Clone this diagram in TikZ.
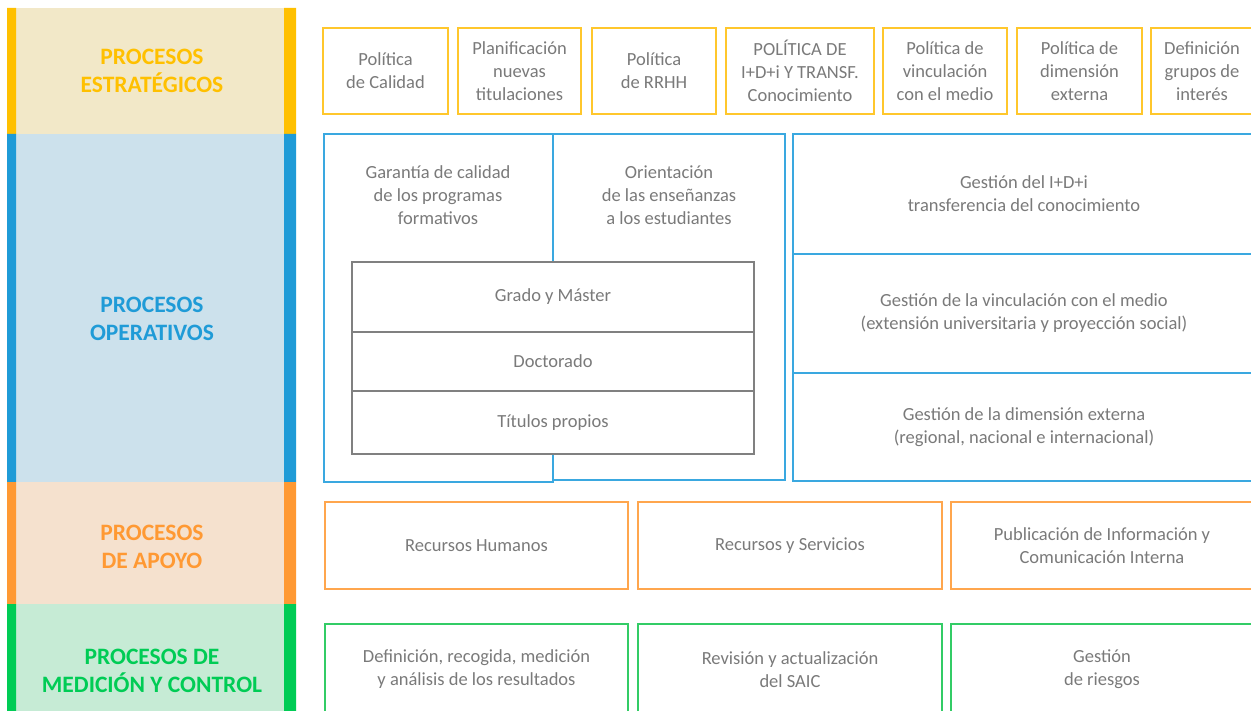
\documentclass[tikz,border=0pt]{standalone}
\usepackage{fontspec}
\setmainfont{Carlito}
\definecolor{txt}{HTML}{7A7A7A}
\definecolor{sStripe}{HTML}{FFC000}
\definecolor{sBg}{HTML}{F2E8C8}
\definecolor{sLine}{HTML}{FFC72C}
\definecolor{oStripe}{HTML}{1F9BD7}
\definecolor{oBg}{HTML}{CCE1EC}
\definecolor{oLine}{HTML}{3AA8E0}
\definecolor{aStripe}{HTML}{FF9933}
\definecolor{aBg}{HTML}{F5E1CE}
\definecolor{aLine}{HTML}{FFA64D}
\definecolor{mStripe}{HTML}{00CC55}
\definecolor{mBg}{HTML}{C6EBD5}
\definecolor{mLine}{HTML}{33CC66}
\definecolor{gLine}{HTML}{808080}
\begin{document}
\begin{tikzpicture}[x=1pt,y=-1pt,
  box/.style={draw, line width=1.8pt, fill=white, text=txt, align=center,
    font=\fontsize{18.5}{23}\selectfont, inner sep=0pt},
  lbl/.style={text=txt, align=center, font=\fontsize{18.5}{23}\selectfont, inner sep=0pt},
  bandlbl/.style={align=center, font=\fontsize{23.5}{28}\selectfont\bfseries, inner sep=0pt},
  sbox/.style={box, draw=sLine, minimum height=86pt},
  obox/.style={box, draw=oLine},
  abox/.style={box, draw=aLine, minimum height=87pt},
  mbox/.style={box, draw=mLine, minimum height=91pt},
  gbox/.style={box, draw=gLine, minimum width=402pt}]
\useasboundingbox (0,0) rectangle (1251,711);
\clip (0,0) rectangle (1251,711);
\fill[white] (0,0) rectangle (1251,711);
% bands
\fill[sBg] (16,8) rectangle (284,134);
\fill[sStripe] (7,8) rectangle (16,134) (284,8) rectangle (296,134);
\fill[oBg] (16,134) rectangle (284,482);
\fill[oStripe] (7,134) rectangle (16,482) (284,134) rectangle (296,482);
\fill[aBg] (16,482) rectangle (284,604);
\fill[aStripe] (7,482) rectangle (16,604) (284,482) rectangle (296,604);
\fill[mBg] (16,604) rectangle (284,711);
\fill[mStripe] (7,604) rectangle (16,711) (284,604) rectangle (296,711);
\node[bandlbl, text=sStripe] (lest) at (152,70.5) {PROCESOS\\ESTRATÉGICOS};
\node[bandlbl, text=oStripe] (lope) at (152,319) {PROCESOS\\OPERATIVOS};
\node[bandlbl, text=aStripe] (lapo) at (152,546.5) {PROCESOS\\DE APOYO};
\node[bandlbl, text=mStripe] (lmed) at (152,670.5) {PROCESOS DE\\MEDICIÓN Y CONTROL};
% strategic
\node[sbox, minimum width=125pt] (s1) at (385.5,71) {Política\\de Calidad};
\node[sbox, minimum width=123pt] (s2) at (519.5,71) {Planificación\\nuevas\\titulaciones};
\node[sbox, minimum width=124pt] (s3) at (654,71) {Política\\de RRHH};
\node[sbox, minimum width=148pt] (s4) at (800,71) {POLÍTICA DE\\I+D+i Y TRANSF.\\Conocimiento};
\node[sbox, minimum width=124pt] (s5) at (945,71) {Política de\\vinculación\\con el medio};
\node[sbox, minimum width=125pt] (s6) at (1079.5,71) {Política de\\dimensión\\externa};
\node[sbox, minimum width=102pt] (s7) at (1202,71) {Definición\\grupos de\\interés};
% operative left
\node[obox, minimum width=229pt, minimum height=348pt] (garantia) at (438.5,308) {};
\node[obox, minimum width=232pt, minimum height=346pt] (orient) at (669,307) {};
\node[lbl] (garantiaT) at (438,195.5) {Garantía de calidad\\de los programas\\formativos};
\node[lbl] (orientT) at (669,195.5) {Orientación\\de las enseñanzas\\a los estudiantes};
\node[gbox, minimum height=70pt] (grado) at (553,297) {Grado y Máster};
\node[gbox, minimum height=59pt] (doct) at (553,361.5) {Doctorado};
\node[gbox, minimum height=63pt] (titulos) at (553,422.5) {Títulos propios};
% operative right
\node[obox, minimum width=462pt, minimum height=120pt] (idi) at (1024,194) {Gestión del I+D+i\\transferencia del conocimiento};
\node[obox, minimum width=462pt, minimum height=119pt] (vinc) at (1024,313.5) {Gestión de la vinculación con el medio\\(extensión universitaria y proyección social)};
\node[obox, minimum width=462pt, minimum height=108pt] (dim) at (1024,427) {Gestión de la dimensión externa\\(regional, nacional e internacional)};
% apoyo
\node[abox, minimum width=303pt] (rh) at (476.5,545.5) {Recursos Humanos};
\node[abox, minimum width=304pt] (rs) at (790,545.5) {Recursos y Servicios};
\node[abox, minimum width=302pt] (pub) at (1102,545.5) {Publicación de Información y\\Comunicación Interna};
% medicion
\node[mbox, minimum width=303pt] (def) at (476.5,669.5) {Definición, recogida, medición\\y análisis de los resultados};
\node[mbox, minimum width=304pt] (rev) at (790,669.5) {Revisión y actualización\\del SAIC};
\node[mbox, minimum width=302pt] (ries) at (1102,669.5) {Gestión\\de riesgos};
\end{tikzpicture}
\end{document}
